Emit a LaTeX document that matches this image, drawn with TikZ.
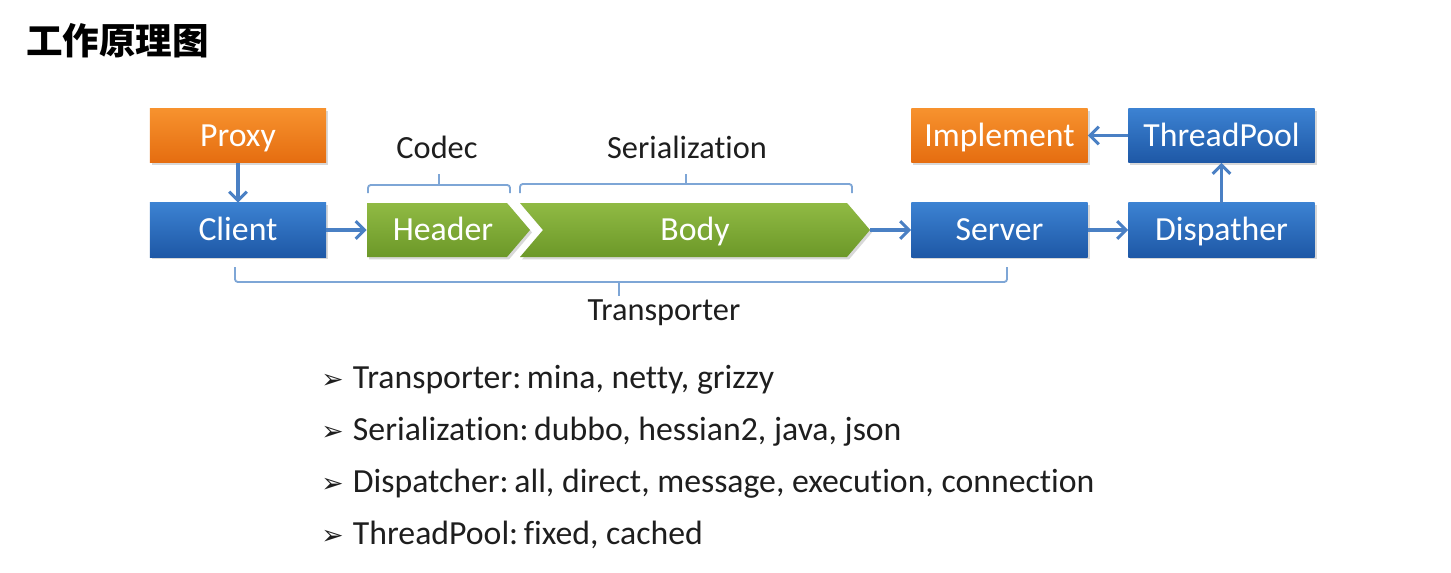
\documentclass[tikz,border=0pt]{standalone}
\usepackage{fontspec}
\setmainfont{Carlito}[Ligatures=NoCommon]
\newfontfamily\cjk{Noto Sans CJK SC}
\newfontfamily\dingfont{DejaVu Sans}
\usetikzlibrary{arrows.meta,shadows}
\definecolor{blueT}{HTML}{3C82D2}
\definecolor{blueB}{HTML}{1E58A6}
\definecolor{orT}{HTML}{F7922E}
\definecolor{orB}{HTML}{E56D10}
\definecolor{grT}{HTML}{90BA44}
\definecolor{grB}{HTML}{6C9828}
\definecolor{arrowc}{HTML}{4A80C4}
\definecolor{bracec}{HTML}{7EA6D6}
\definecolor{txt}{HTML}{1E1E1E}
\begin{document}
\begin{tikzpicture}[x=0.025cm,y=-0.025cm,
  shad/.style={drop shadow={opacity=0.3,shadow xshift=0.05cm,shadow yshift=-0.06cm}},
  box/.style={rectangle, minimum width=4.4cm, minimum height=1.35cm, inner sep=0pt,
    font=\fontsize{24}{30}\selectfont, text=white, text height=15.5pt, text depth=0pt, shad},
  bluebox/.style={box, top color=blueT, bottom color=blueB},
  orangebox/.style={box, top color=orT, bottom color=orB},
  seglabel/.style={rectangle, minimum height=1.35cm, inner sep=0pt,
    font=\fontsize{24}{30}\selectfont, text=white, text height=15.5pt, text depth=0pt},
  link/.style={draw=arrowc, line width=2.2pt, -{Straight Barb[length=0.22cm,width=0.44cm]}},
  brace/.style={draw=bracec, line width=1.3pt, rounded corners=2pt},
  lbl/.style={anchor=base, font=\fontsize{23}{28}\selectfont, text=txt},
  item/.style={anchor=base west, font=\fontsize{24}{28}\selectfont, text=txt},
  bul/.style={anchor=base west, font=\dingfont\fontsize{19}{24}\selectfont, text=txt, inner sep=0pt}
]
\useasboundingbox[fill=white] (0,0) rectangle (1451,572);

% title
\node[anchor=base west, font=\cjk\bfseries\fontsize{26}{30}\selectfont, text=black, inner sep=0pt] (title) at (26,54) {工作原理图};

% boxes
\node[orangebox] (proxy) at (238,135.5) {Proxy};
\node[bluebox] (client) at (238,230) {Client};
\node[orangebox] (impl) at (999.5,135.5) {Implement};
\node[bluebox] (server) at (999.5,230) {Server};
\node[bluebox, minimum width=4.65cm] (pool) at (1221.5,135.5) {ThreadPool};
\node[bluebox, minimum width=4.65cm] (disp) at (1221.5,230) {Dispather};

% chevrons
\path[top color=grT, bottom color=grB, shad] (367,203) -- (507,203) -- (530,230) -- (507,257) -- (367,257) -- cycle;
\path[top color=grT, bottom color=grB, shad] (520,203) -- (847,203) -- (870,230) -- (847,257) -- (520,257) -- (543,230) -- cycle;
\node[seglabel, minimum width=3.8cm] (header) at (443,230) {Header};
\node[seglabel, minimum width=8.75cm] (body) at (695,230) {Body};

% connectors
\draw[link] (proxy) -- (client);
\draw[link] (client) -- (header);
\draw[link] (body) -- (server);
\draw[link] (server) -- (disp);
\draw[link] (disp) -- (pool);
\draw[link] (pool) -- (impl);

% brackets
\draw[brace] (368,193) -- (368,185) -- (510,185) -- (510,193);
\draw[brace] (439,185) -- (439,174);
\draw[brace] (520,193) -- (520,184) -- (852,184) -- (852,193);
\draw[brace] (686,184) -- (686,174);
\draw[brace] (235,267) -- (235,282) -- (1007,282) -- (1007,267);
\draw[brace] (619,282) -- (619,296);

\node[lbl] (codec) at (437,158) {Codec};
\node[lbl] (ser) at (687,158) {Serialization};
\node[lbl] (trans) at (664,320) {Transporter};

% list
\node[bul] (b1) at (321,388) {➢};
\node[item] (i1) at (348,388) {Transporter:\,mina, netty, grizzy};
\node[bul] (b2) at (321,440) {➢};
\node[item] (i2) at (348,440) {Serialization:\,dubbo, hessian2, java, json};
\node[bul] (b3) at (321,492) {➢};
\node[item] (i3) at (348,492) {Dispatcher:\,all, direct, message, execution, connection};
\node[bul] (b4) at (321,544) {➢};
\node[item] (i4) at (348,544) {ThreadPool:\,fixed, cached};
\end{tikzpicture}
\end{document}
